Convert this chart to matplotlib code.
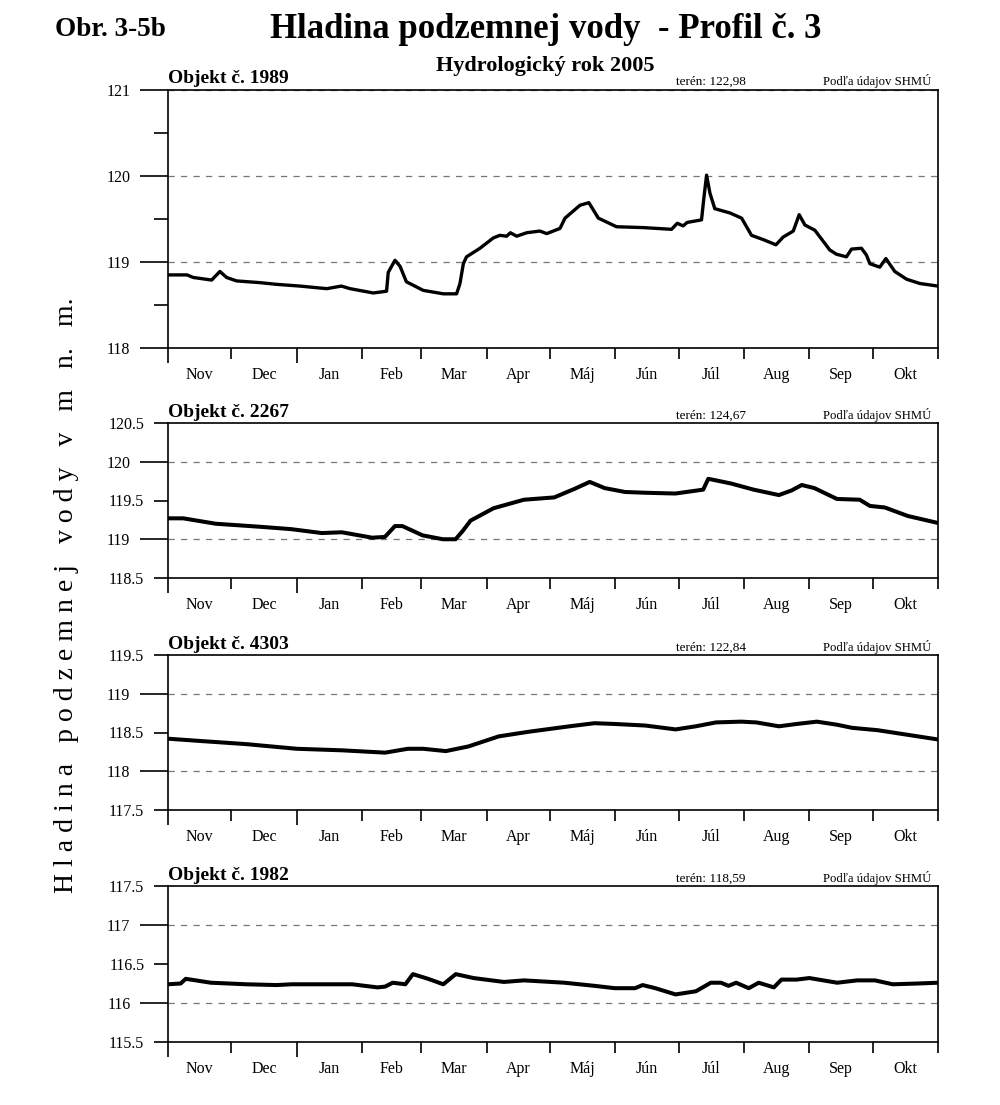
import matplotlib
matplotlib.use("Agg")
import matplotlib.pyplot as plt
import numpy as np
from matplotlib.ticker import FixedLocator, NullFormatter, FormatStrFormatter

plt.rcParams['font.family'] = ['Liberation Serif', 'DejaVu Serif']

# hydrologicky rok 1.11.2004 - 31.10.2005, x = den od 1. novembra
mesiace = ['Nov', 'Dec', 'Jan', 'Feb', 'Mar', 'Apr', 'Máj', 'Jún', 'Júl', 'Aug', 'Sep', 'Okt']
dni_v_mesiaci = [30, 31, 31, 28, 31, 30, 31, 30, 31, 31, 30, 31]

objekty = ['1989', '2267', '4303', '1982']
teren = ['122,98', '124,67', '122,84', '118,59']

dni_1989 = [0, 9, 12, 20.7, 24.6, 27.8, 32.5, 43.6, 51.5, 62.6, 75.2, 82.2, 86.3, 97.3,
            103.6, 104.4, 107.6, 110, 113, 121, 130.5, 136.8, 138.4, 140, 141.5, 147.9,
            154.2, 157.3, 160.5, 162.3, 165.3, 170, 176.3, 179.5, 185.8, 188.2, 195.3,
            199.5, 204, 212.6, 225.3, 238.7, 241.4, 244.2, 246.1, 252.9, 254, 255.3,
            256.9, 259.2, 266.4, 271.9, 276.6, 282.2, 288.2, 291.6, 296.4, 299.2, 301.9,
            306.6, 313.7, 316.9, 321.6, 324, 328.7, 331.1, 332.7, 337.4, 340.3, 344.5,
            350.1, 356.4, 365]
hladina_1989 = [118.85, 118.85, 118.82, 118.79, 118.89, 118.82, 118.78, 118.76, 118.74,
                118.72, 118.69, 118.72, 118.69, 118.64, 118.66, 118.88, 119.02, 118.95,
                118.77, 118.67, 118.63, 118.63, 118.75, 118.98, 119.06, 119.16, 119.28,
                119.31, 119.30, 119.34, 119.30, 119.34, 119.36, 119.33, 119.39, 119.51,
                119.66, 119.69, 119.51, 119.41, 119.40, 119.38, 119.45, 119.42, 119.46,
                119.49, 119.74, 120.01, 119.80, 119.62, 119.57, 119.51, 119.31, 119.26,
                119.20, 119.29, 119.36, 119.55, 119.43, 119.37, 119.14, 119.09, 119.06,
                119.15, 119.16, 119.08, 118.98, 118.94, 119.04, 118.89, 118.80, 118.75,
                118.72]

dni_2267 = [0, 7.2, 22.7, 44.2, 58.5, 72.9, 82.4, 96.8, 102.8, 107.6, 111.1, 120.7, 130.3,
            136.3, 139.8, 143.4, 154.3, 168.7, 183.1, 192.7, 199.9, 207, 216.6, 226.2,
            240.5, 253.7, 256.1, 266.8, 277.6, 289.6, 295.6, 300.4, 306.4, 317.1, 327.9,
            332.7, 339.8, 350.7, 365]
hladina_2267 = [119.27, 119.27, 119.20, 119.16, 119.13, 119.08, 119.09, 119.02, 119.03,
                119.17, 119.17, 119.05, 119.00, 119.00, 119.11, 119.24, 119.40, 119.51,
                119.54, 119.65, 119.74, 119.66, 119.61, 119.60, 119.59, 119.64, 119.78,
                119.72, 119.64, 119.57, 119.63, 119.70, 119.66, 119.52, 119.51, 119.43,
                119.41, 119.30, 119.21]

dni_4303 = [0, 15.6, 37.1, 61, 82.6, 102.9, 113.7, 120.9, 131.7, 142.4, 156.8, 171.1,
            190.3, 202.2, 211.8, 226.2, 240.6, 250.2, 259.7, 271.7, 278.9, 289.6, 298,
            307.6, 317.2, 324.3, 336.3, 348.3, 365]
hladina_4303 = [118.42, 118.39, 118.35, 118.29, 118.27, 118.24, 118.29, 118.29, 118.26,
                118.32, 118.45, 118.51, 118.58, 118.62, 118.61, 118.59, 118.54, 118.58,
                118.63, 118.64, 118.63, 118.58, 118.61, 118.64, 118.60, 118.56, 118.53,
                118.48, 118.41]

dni_1982 = [0, 6, 8.4, 20.3, 37.1, 51.4, 58.6, 87.3, 99.3, 102.9, 106.5, 112.5, 116.1,
            123.3, 130.5, 136.4, 144.8, 159.2, 168.8, 187.9, 202.2, 211.8, 221.4, 225,
            231, 240.6, 250.2, 257.3, 262.1, 265.7, 269.3, 275.3, 280, 287.2, 290.8, 298,
            304, 317.2, 326.7, 335.1, 343.5, 355.5, 365]
hladina_1982 = [116.24, 116.25, 116.31, 116.26, 116.24, 116.23, 116.24, 116.24, 116.20,
                116.21, 116.26, 116.24, 116.37, 116.31, 116.24, 116.37, 116.32, 116.27,
                116.29, 116.26, 116.22, 116.19, 116.19, 116.23, 116.19, 116.11, 116.15,
                116.26, 116.26, 116.22, 116.26, 116.19, 116.26, 116.20, 116.30, 116.30,
                116.32, 116.26, 116.29, 116.29, 116.24, 116.25, 116.26]

serie = [(dni_1989, hladina_1989), (dni_2267, hladina_2267),
         (dni_4303, hladina_4303), (dni_1982, hladina_1982)]
rozsahy = [(118, 121), (118.5, 120.5), (117.5, 119.5), (115.5, 117.5)]

# pozicie grafov v pixeloch (hore, dole)
W, H = 1000, 1105
polohy = [(90, 348), (423, 578), (655, 810), (886, 1042)]
lavy, pravy = 168, 938

fig = plt.figure(figsize=(W / 100, H / 100), dpi=100)

hranice = np.concatenate([[0], np.cumsum(dni_v_mesiaci)])
stredy = (hranice[:-1] + hranice[1:]) / 2

for i, ((dni, hladina), (ymin, ymax), (hore, dole)) in enumerate(zip(serie, rozsahy, polohy)):
    ax = fig.add_axes([lavy / W, 1 - dole / H, (pravy - lavy) / W, (dole - hore) / H])
    ax.plot(dni, hladina, color='black', lw=2.4 if i == 0 else 2.9,
            solid_joinstyle='round', solid_capstyle='round')
    ax.set_xlim(0, 365)
    ax.set_ylim(ymin, ymax)

    # os y
    major = np.arange(np.ceil(ymin), ymax + 0.01, 1.0)
    minor = np.arange(ymin, ymax + 0.01, 0.5)
    minor = [m for m in minor if m % 1 != 0]
    ax.yaxis.set_major_locator(FixedLocator(major))
    ax.yaxis.set_minor_locator(FixedLocator(minor))
    ax.yaxis.set_major_formatter(FormatStrFormatter('%g'))
    if i == 0:
        ax.yaxis.set_minor_formatter(NullFormatter())
    else:
        ax.yaxis.set_minor_formatter(FormatStrFormatter('%g'))
    ax.tick_params(axis='y', which='major', direction='out', length=20, width=1.2,
                   pad=7, labelsize=11.5)
    ax.tick_params(axis='y', which='minor', direction='out', length=10, width=1.2,
                   pad=7, labelsize=11.5)
    ax.grid(axis='y', which='major', linestyle=(0, (5, 5)), color='#777777', lw=0.9)

    # os x - mesiace
    ax.xaxis.set_major_locator(FixedLocator(hranice))
    ax.xaxis.set_major_formatter(NullFormatter())
    ax.xaxis.set_minor_locator(FixedLocator(stredy))
    ax.set_xticklabels(mesiace, minor=True)
    ax.tick_params(axis='x', which='major', direction='out', length=8, width=1.2)
    ax.tick_params(axis='x', which='minor', length=0, pad=14, labelsize=11.5)
    for k in (0, 2):
        ax.xaxis.get_major_ticks()[k].tick1line.set_markersize(11)

    for s in ax.spines.values():
        s.set_linewidth(1.2)

    ax.text(0, 1.012, 'Objekt č. ' + objekty[i], transform=ax.transAxes,
            fontsize=14, fontweight='bold', ha='left', va='bottom')
    ax.text(0.66, 1.008, 'terén: ' + teren[i], transform=ax.transAxes,
            fontsize=9.5, ha='left', va='bottom')
    ax.text(0.992, 1.008, 'Podľa údajov SHMÚ', transform=ax.transAxes,
            fontsize=9.2, ha='right', va='bottom')

fig.text(55 / W, 1 - 30 / H, 'Obr. 3-5b', fontsize=19.5, fontweight='bold',
         ha='left', va='center')
fig.text(546 / W, 1 - 30 / H, 'Hladina podzemnej vody  - Profil č. 3', fontsize=25,
         fontweight='bold', ha='center', va='center')
fig.text(545 / W, 1 - 66 / H, 'Hydrologický rok 2005', fontsize=16, fontweight='bold',
         ha='center', va='center')
fig.text(67 / W, 1 - 595 / H, 'H l a d i n a   p o d z e m n e j   v o d y   v   m   n.   m.',
         fontsize=20, rotation=90, ha='center', va='center')

plt.savefig('out.png', dpi=100)
